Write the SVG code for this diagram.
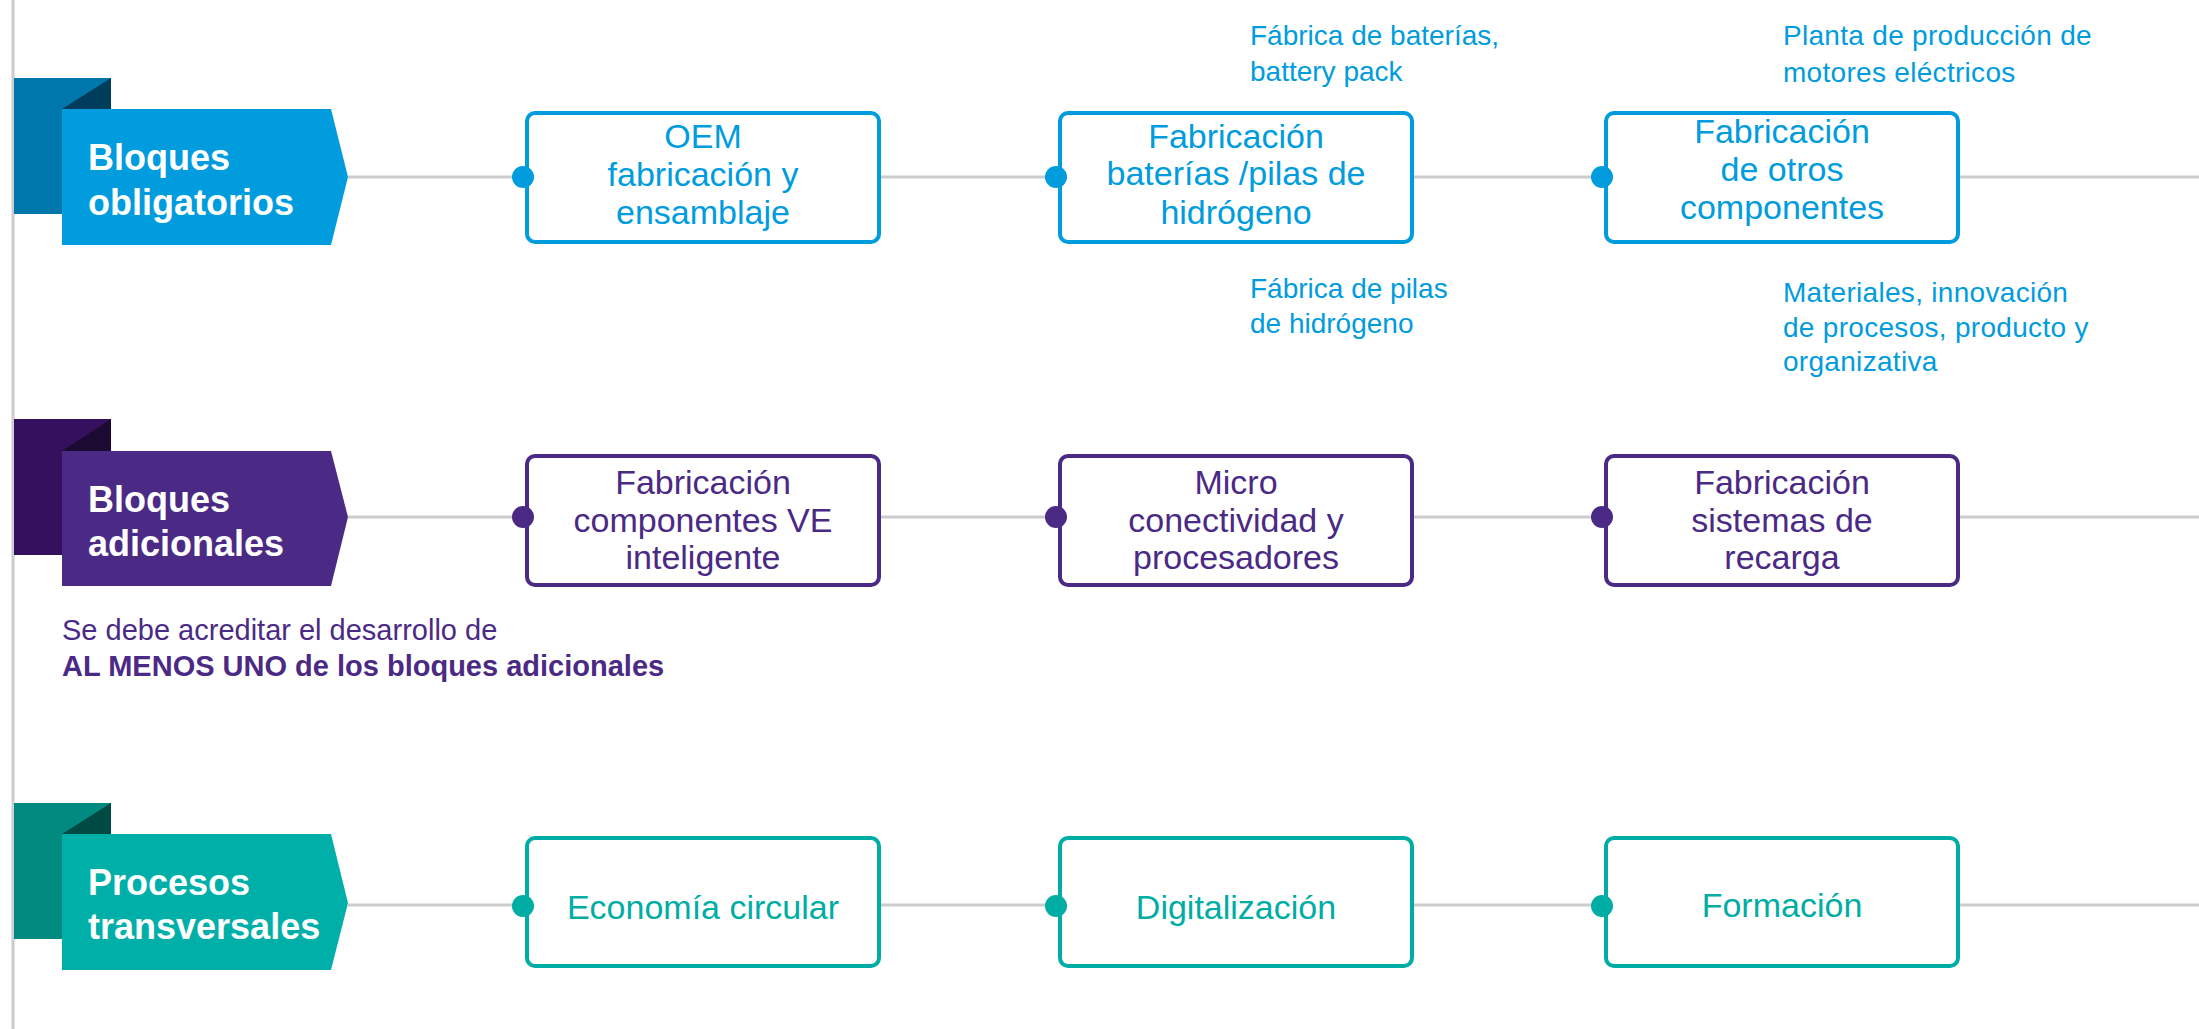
<svg xmlns="http://www.w3.org/2000/svg" width="2199" height="1029" viewBox="0 0 2199 1029">
<style>
.bt{font-family:"Liberation Sans",Arial,sans-serif;font-weight:700;font-size:36px;fill:#ffffff}
.nt{font-family:"Liberation Sans",Arial,sans-serif;font-size:34px;text-anchor:middle}
.lb{font-family:"Liberation Sans",Arial,sans-serif;font-size:28px}
.conn{stroke:#cccccc;stroke-width:3;fill:none}
.box{fill:#ffffff;stroke-width:4}
.b .box{stroke:#009cde}.b text{fill:#009cde}.b .dot{fill:#009cde}
.p .box{stroke:#4b2a85}.p text{fill:#4b2a85}.p .dot{fill:#4b2a85}
.t .box{stroke:#00ada4}.t text{fill:#00ada4}.t .dot{fill:#00ada4}
.note{font-family:"Liberation Sans",Arial,sans-serif;font-size:29px;fill:#4b2a85}
</style>
<rect width="2199" height="1029" fill="#ffffff"/>
<line x1="13" y1="0" x2="13" y2="1029" stroke="#cccccc" stroke-width="3"/>

<g id="connectors">
  <g class="b">
    <line class="conn" x1="348" y1="177" x2="523" y2="177"/>
    <line class="conn" x1="881" y1="177" x2="1056" y2="177"/>
    <line class="conn" x1="1414" y1="177" x2="1602" y2="177"/>
    <line class="conn" x1="1960" y1="177" x2="2199" y2="177"/>
  </g>
  <g class="p">
    <line class="conn" x1="348" y1="517" x2="523" y2="517"/>
    <line class="conn" x1="881" y1="517" x2="1056" y2="517"/>
    <line class="conn" x1="1414" y1="517" x2="1602" y2="517"/>
    <line class="conn" x1="1960" y1="517" x2="2199" y2="517"/>
  </g>
  <g class="t">
    <line class="conn" x1="348" y1="905" x2="523" y2="905"/>
    <line class="conn" x1="881" y1="905" x2="1056" y2="905"/>
    <line class="conn" x1="1414" y1="905" x2="1602" y2="905"/>
    <line class="conn" x1="1960" y1="905" x2="2199" y2="905"/>
  </g>
</g>

<g id="banner-obligatorios">
  <rect x="14" y="78" width="97" height="136" fill="#0077aa"/>
  <polygon points="62,109 111,78 111,109" fill="#003d5c"/>
  <polygon points="62,109 331,109 348,177 331,245 62,245" fill="#009cde"/>
  <text class="bt" x="88" y="170">Bloques</text>
  <text class="bt" x="88" y="215">obligatorios</text>
</g>
<g id="banner-adicionales">
  <rect x="14" y="419" width="97" height="136" fill="#35105e"/>
  <polygon points="62,451 111,419 111,451" fill="#1c0a33"/>
  <polygon points="62,451 331,451 348,517 331,586 62,586" fill="#4b2a85"/>
  <text class="bt" x="88" y="512">Bloques</text>
  <text class="bt" x="88" y="556">adicionales</text>
</g>
<g id="banner-transversales">
  <rect x="14" y="803" width="97" height="136" fill="#008a80"/>
  <polygon points="62,834 111,803 111,834" fill="#004a44"/>
  <polygon points="62,834 331,834 348,903 331,970 62,970" fill="#00b0a8"/>
  <text class="bt" x="88" y="895">Procesos</text>
  <text class="bt" x="88" y="939">transversales</text>
</g>

<g id="node-oem" class="b">
  <rect class="box" x="527" y="113" width="352" height="129" rx="8"/>
  <circle class="dot" cx="523" cy="177" r="11"/>
  <text class="nt" x="703" y="148">OEM</text>
  <text class="nt" x="703" y="186">fabricación y</text>
  <text class="nt" x="703" y="224">ensamblaje</text>
</g>
<g id="node-baterias" class="b">
  <rect class="box" x="1060" y="113" width="352" height="129" rx="8"/>
  <circle class="dot" cx="1056" cy="177" r="11"/>
  <text class="nt" x="1236" y="148">Fabricación</text>
  <text class="nt" x="1236" y="185">baterías /pilas de</text>
  <text class="nt" x="1236" y="224">hidrógeno</text>
</g>
<g id="node-otros" class="b">
  <rect class="box" x="1606" y="113" width="352" height="129" rx="8"/>
  <circle class="dot" cx="1602" cy="177" r="11"/>
  <text class="nt" x="1782" y="143">Fabricación</text>
  <text class="nt" x="1782" y="181">de otros</text>
  <text class="nt" x="1782" y="219">componentes</text>
</g>

<g id="labels-obligatorios" class="b">
  <text class="lb" x="1250" y="45">Fábrica de baterías,</text>
  <text class="lb" x="1250" y="81">battery pack</text>
  <text class="lb" x="1250" y="298">Fábrica de pilas</text>
  <text class="lb" x="1250" y="333">de hidrógeno</text>
  <text class="lb" x="1783" y="45" letter-spacing="0.3">Planta de producción de</text>
  <text class="lb" x="1783" y="82" letter-spacing="0.3">motores eléctricos</text>
  <text class="lb" x="1783" y="302" letter-spacing="0.3">Materiales, innovación</text>
  <text class="lb" x="1783" y="337" letter-spacing="0.3">de procesos, producto y</text>
  <text class="lb" x="1783" y="371" letter-spacing="0.3">organizativa</text>
</g>

<g id="node-componentes-ve" class="p">
  <rect class="box" x="527" y="456" width="352" height="129" rx="8"/>
  <circle class="dot" cx="523" cy="517" r="11"/>
  <text class="nt" x="703" y="494">Fabricación</text>
  <text class="nt" x="703" y="532">componentes VE</text>
  <text class="nt" x="703" y="569">inteligente</text>
</g>
<g id="node-micro" class="p">
  <rect class="box" x="1060" y="456" width="352" height="129" rx="8"/>
  <circle class="dot" cx="1056" cy="517" r="11"/>
  <text class="nt" x="1236" y="494">Micro</text>
  <text class="nt" x="1236" y="532">conectividad y</text>
  <text class="nt" x="1236" y="569">procesadores</text>
</g>
<g id="node-recarga" class="p">
  <rect class="box" x="1606" y="456" width="352" height="129" rx="8"/>
  <circle class="dot" cx="1602" cy="517" r="11"/>
  <text class="nt" x="1782" y="494">Fabricación</text>
  <text class="nt" x="1782" y="532">sistemas de</text>
  <text class="nt" x="1782" y="569">recarga</text>
</g>

<g id="note-adicionales">
  <text class="note" x="62" y="640">Se debe acreditar el desarrollo de</text>
  <text class="note" x="62" y="676" font-weight="700">AL MENOS UNO de los bloques adicionales</text>
</g>

<g id="node-economia" class="t">
  <rect class="box" x="527" y="838" width="352" height="128" rx="8"/>
  <circle class="dot" cx="523" cy="906" r="11"/>
  <text class="nt" x="703" y="919">Economía circular</text>
</g>
<g id="node-digitalizacion" class="t">
  <rect class="box" x="1060" y="838" width="352" height="128" rx="8"/>
  <circle class="dot" cx="1056" cy="906" r="11"/>
  <text class="nt" x="1236" y="919">Digitalización</text>
</g>
<g id="node-formacion" class="t">
  <rect class="box" x="1606" y="838" width="352" height="128" rx="8"/>
  <circle class="dot" cx="1602" cy="906" r="11"/>
  <text class="nt" x="1782" y="917">Formación</text>
</g>
</svg>
